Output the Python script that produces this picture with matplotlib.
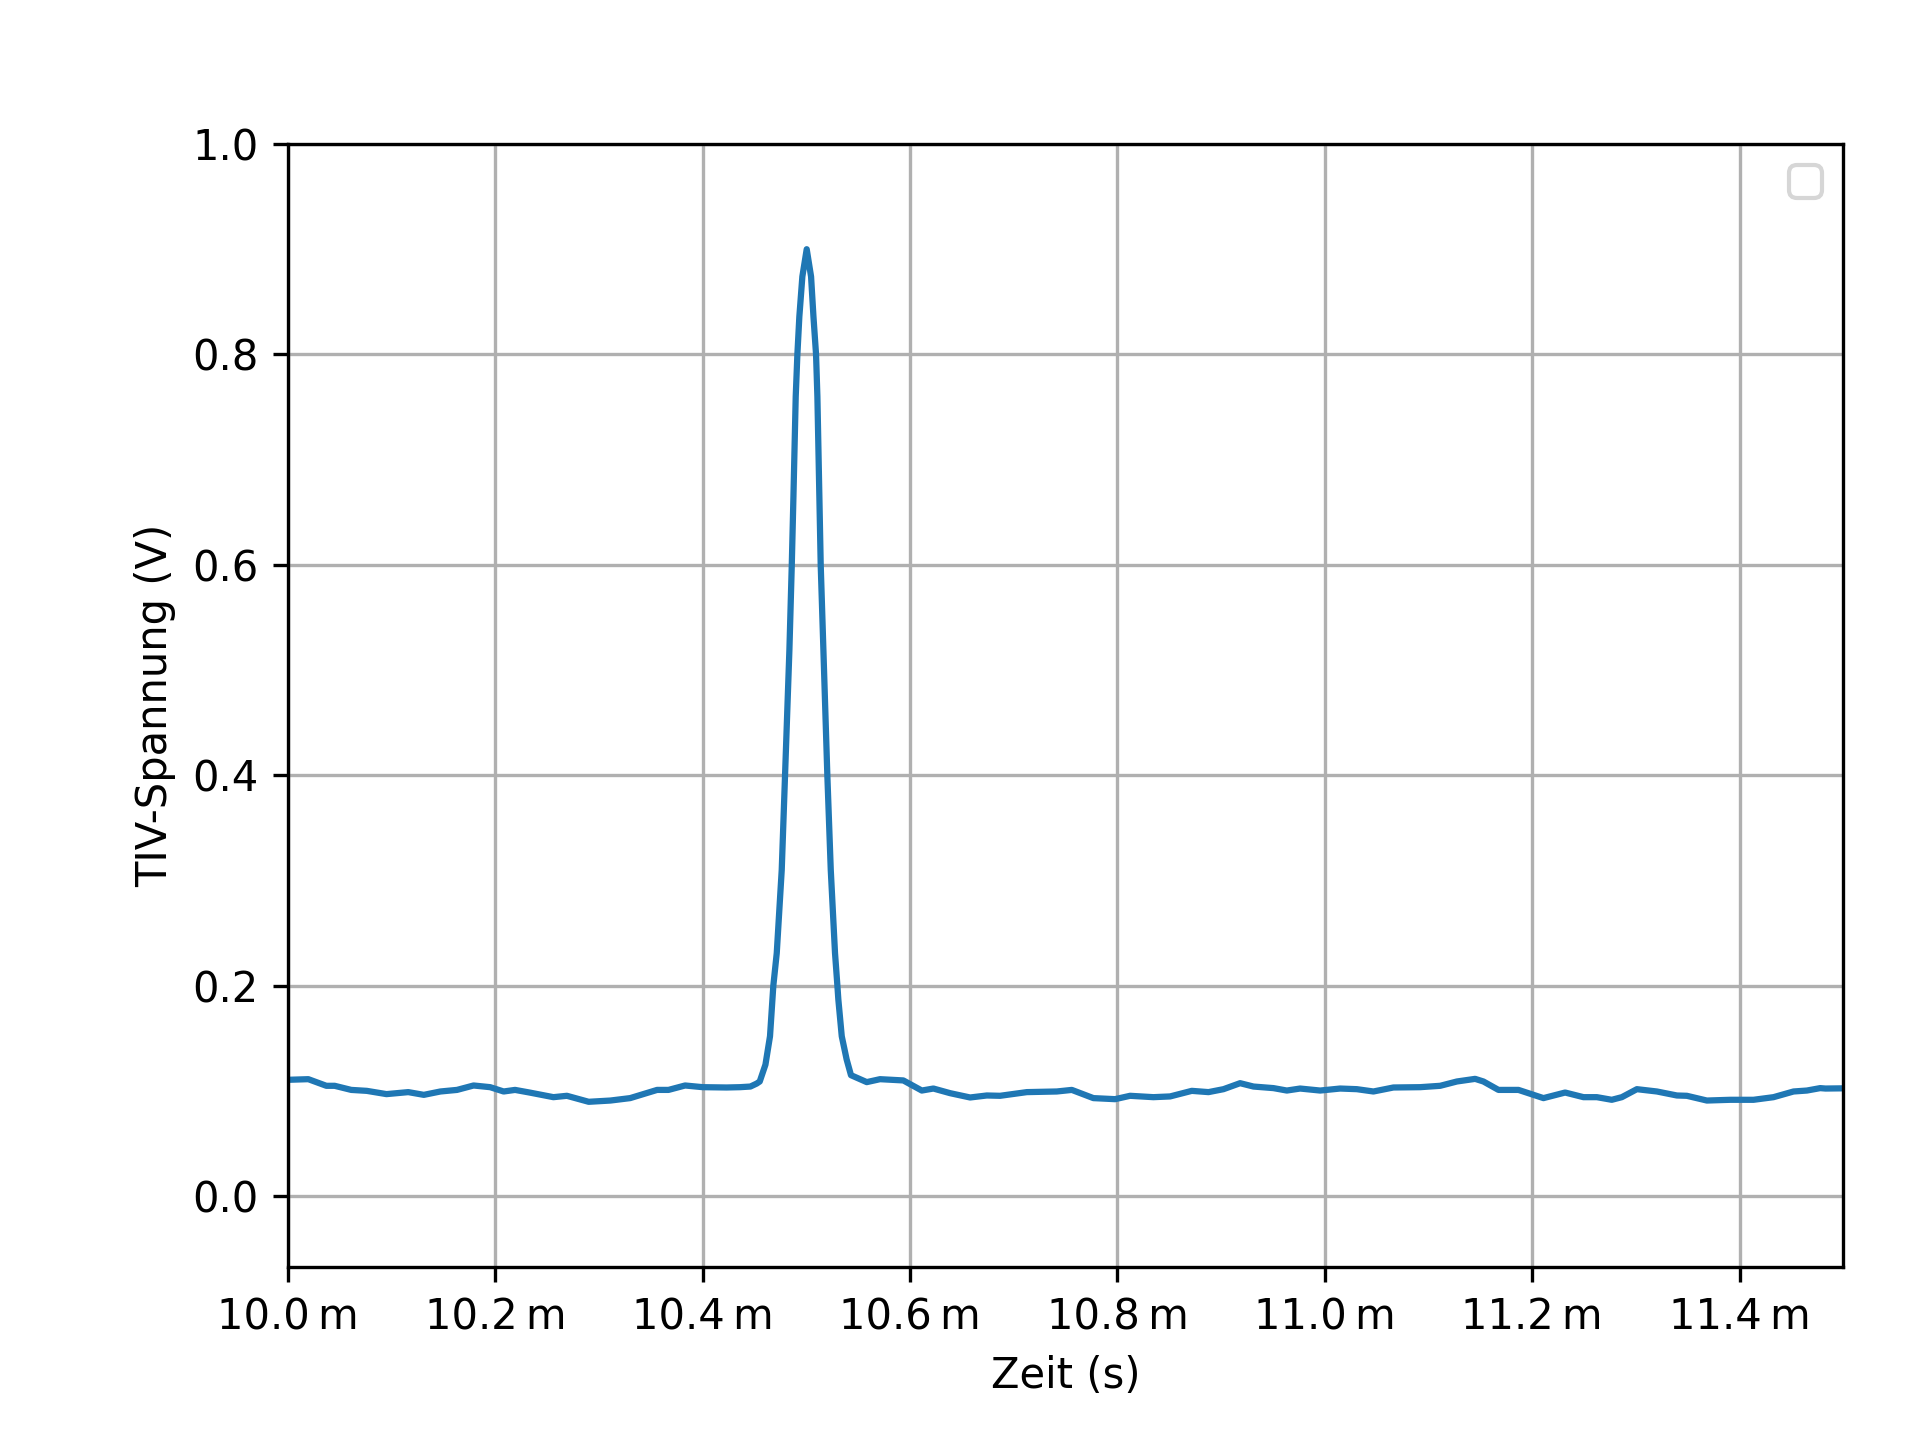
import matplotlib
matplotlib.use("Agg")
import matplotlib.pyplot as plt
from matplotlib.ticker import EngFormatter
import numpy as np

# time in milliseconds, voltage in volts
time_ms = [
    10.000, 10.0196, 10.037, 10.045, 10.061, 10.076, 10.095, 10.116, 10.131, 10.147,
    10.163, 10.179, 10.195, 10.208, 10.219, 10.233, 10.256, 10.269, 10.290, 10.311,
    10.330, 10.356, 10.367, 10.383, 10.400, 10.423, 10.436, 10.446, 10.452, 10.455,
    10.4605, 10.4649, 10.4681, 10.4714, 10.4762, 10.4794, 10.4836, 10.4859, 10.4875,
    10.4897, 10.4913, 10.4932, 10.4961, 10.5003, 10.5045, 10.5068, 10.5093, 10.5106,
    10.5125, 10.5138, 10.5164, 10.5202, 10.5235, 10.5276, 10.5299, 10.5308, 10.5341,
    10.5388, 10.543, 10.5582, 10.571, 10.5935, 10.6113, 10.6225, 10.6386, 10.6579,
    10.674, 10.6868, 10.7126, 10.7415, 10.756, 10.7768, 10.7977, 10.8122, 10.8347,
    10.8508, 10.8717, 10.8878, 10.9023, 10.9183, 10.9312, 10.9505, 10.9634, 10.9762,
    10.9955, 11.0148, 11.0309, 11.0469, 11.0662, 11.092, 11.1113, 11.1274, 11.145,
    11.153, 11.1675, 11.1868, 11.2109, 11.2318, 11.2495, 11.2624, 11.2768, 11.2865,
    11.301, 11.3203, 11.3396, 11.3492, 11.3685, 11.391, 11.4135, 11.4328, 11.4521,
    11.465, 11.4778, 11.483, 11.500, 11.510,
]
voltage = [
    0.1106, 0.1112, 0.1049, 0.1049, 0.1010, 0.1001, 0.0970, 0.0989, 0.0963, 0.0995,
    0.1010, 0.1052, 0.1036, 0.0995, 0.1010, 0.0985, 0.0941, 0.0954, 0.0897, 0.0909,
    0.0932, 0.1010, 0.1010, 0.1052, 0.1036, 0.1033, 0.1036, 0.1042, 0.1070, 0.1090,
    0.125, 0.152, 0.200, 0.231, 0.310, 0.400, 0.519, 0.600, 0.665,
    0.760, 0.800, 0.836, 0.874, 0.900, 0.874, 0.836, 0.800, 0.760,
    0.665, 0.600, 0.519, 0.400, 0.310, 0.231, 0.200, 0.187, 0.152,
    0.130, 0.115, 0.1084, 0.1112, 0.1100, 0.1004, 0.1023, 0.0979, 0.0938,
    0.0957, 0.0954, 0.0989, 0.0995, 0.1010, 0.0932, 0.0922, 0.0954, 0.0941,
    0.0948, 0.1001, 0.0989, 0.1017, 0.1074, 0.1042, 0.1027, 0.1004, 0.1023,
    0.1004, 0.1023, 0.1017, 0.0995, 0.1033, 0.1036, 0.1049, 0.1090, 0.1115,
    0.1090, 0.1010, 0.1010, 0.0932, 0.0985, 0.0941, 0.0941, 0.0916, 0.0941,
    0.1017, 0.0995, 0.0957, 0.0954, 0.0909, 0.0916, 0.0916, 0.0941, 0.0995,
    0.1004, 0.1027, 0.1023, 0.1025, 0.1025,
]

t = np.array(time_ms) * 1e-3

fig = plt.figure(figsize=(6.4, 4.8), dpi=300)
ax = fig.add_axes([0.150, 0.120, 0.810, 0.780])
ax.plot(t, voltage, color="#1f77b4", linewidth=1.5)
ax.set_xlim(0.0100, 0.0115)
ax.set_ylim(-0.0675, 1.0)
ax.xaxis.set_major_formatter(EngFormatter(places=1, sep="\u2009"))
ax.set_xlabel("Zeit (s)")
ax.set_ylabel("TIV-Spannung (V)")
ax.grid(True)
ax.legend(handles=[], loc="upper right")

fig.savefig("out.png", dpi=300)
